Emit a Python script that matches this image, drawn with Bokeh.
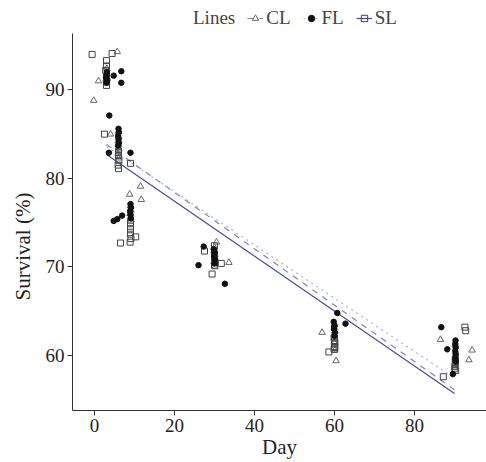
import numpy as np
from bokeh.plotting import figure
from bokeh.models import Legend, LegendItem, FixedTicker, ColumnDataSource, Title
from bokeh.embed import file_html
from bokeh.resources import INLINE

# ---------------- data ----------------
series = ["CL", "FL", "SL"]

CL_day = [3] * 8 + [6] * 8 + [9] * 8 + [30] * 8 + [60] * 8 + [90] * 8
CL_x = [5.7, 1.0, -0.2, 3.0, 3.1, 2.9, 3.0, 3.1,
        4.0, 6.0, 6.1, 5.9, 6.0, 6.1, 5.9, 6.0,
        11.5, 11.7, 8.8, 9.0, 9.1, 8.9, 9.0, 9.1,
        30.5, 33.6, 30.0, 29.9, 30.1, 30.0, 29.9, 30.1,
        56.9, 60.4, 60.0, 59.9, 60.1, 60.0, 59.9, 60.1,
        86.5, 94.4, 93.6, 90.2, 90.0, 90.2, 90.3, 90.2]
CL_y = [94.3, 91.0, 88.8, 91.9, 91.5, 91.2, 90.9, 92.4,
        85.0, 85.3, 84.7, 84.2, 83.8, 83.3, 82.8, 82.3,
        79.1, 77.6, 78.2, 76.9, 76.4, 76.0, 75.6, 75.3,
        72.8, 70.5, 72.2, 71.8, 71.4, 71.0, 70.6, 70.0,
        62.6, 59.4, 63.5, 63.1, 62.7, 62.3, 61.5, 60.6,
        61.8, 60.6, 59.5, 59.0, 58.6, 61.2, 60.4, 59.8]

FL_day = [3] * 9 + [6] * 8 + [9] * 8 + [30] * 8 + [60] * 8 + [90] * 10
FL_x = [3.1, 3.0, 2.9, 3.2, 3.0, 4.8, 6.7, 6.7, 3.7,
        6.0, 6.1, 5.9, 6.0, 6.1, 5.9, 3.6, 9.0,
        9.0, 9.1, 8.9, 9.0, 9.1, 4.8, 5.7, 6.9,
        27.3, 26.0, 32.6, 29.8, 30.0, 29.9, 30.1, 30.0,
        60.7, 62.75, 59.8, 60.0, 59.9, 60.1, 60.0, 59.9,
        86.7, 88.2, 90.25, 90.2, 90.3, 90.2, 90.3, 90.2, 90.3, 89.6]
FL_y = [92.0, 91.7, 91.4, 91.1, 90.8, 91.6, 92.1, 90.8, 87.1,
        85.6, 85.2, 84.8, 84.4, 84.0, 83.7, 82.9, 82.9,
        77.1, 76.7, 76.3, 75.9, 75.5, 75.2, 75.4, 75.8,
        72.3, 70.2, 68.1, 72.0, 71.6, 71.2, 70.8, 70.4,
        64.8, 63.6, 63.8, 63.4, 63.0, 62.6, 62.2, 63.2,
        63.2, 60.7, 61.7, 61.3, 60.9, 60.5, 60.1, 59.7, 59.3, 57.9]

SL_day = [3] * 8 + [6] * 8 + [9] * 8 + [30] * 8 + [60] * 8 + [90] * 8
SL_x = [-0.6, 4.4, 3.0, 3.0, 2.8, 3.0, 3.0, 3.0,
        2.5, 6.0, 6.0, 6.1, 5.9, 6.0, 9.0, 6.0,
        9.0, 9.0, 9.1, 8.9, 10.3, 6.5, 9.0, 9.0,
        27.5, 31.7, 29.4, 30.0, 30.0, 30.0, 30.0, 30.1,
        60.0, 60.0, 60.1, 58.6, 59.9, 60.0, 60.1, 59.9,
        92.6, 92.8, 87.2, 90.1, 90.3, 90.2, 90.1, 90.2]
SL_y = [94.0, 94.1, 93.3, 92.7, 92.2, 90.5, 90.9, 91.3,
        85.0, 83.1, 82.6, 82.0, 81.5, 81.1, 81.7, 82.9,
        74.2, 73.7, 73.2, 72.8, 73.4, 72.7, 74.6, 75.0,
        71.8, 70.4, 69.2, 72.4, 70.2, 71.0, 71.5, 70.6,
        61.7, 61.3, 60.9, 60.4, 62.0, 61.0, 61.5, 60.7,
        63.2, 62.8, 57.6, 58.8, 58.3, 59.2, 58.5, 59.6]

x_ticks = [0, 20, 40, 60, 80]
y_ticks = [60, 70, 80, 90]

# ---------------- styles ----------------
FONT = "Liberation Serif"
markers = {"CL": "triangle", "FL": "circle", "SL": "square"}
msize = {"CL": 6.5, "FL": 5.5, "SL": 6}
mline = {"CL": "#666666", "FL": "#111111", "SL": "#444444"}
mfill = {"CL": None, "FL": "#111111", "SL": None}
lcolor = {"CL": "#7a82c0", "FL": "#a6aee0", "SL": "#4a4aa8"}
ldash = {"CL": "dashed", "FL": "dotted", "SL": "solid"}

data = {"CL": (CL_day, CL_x, CL_y), "FL": (FL_day, FL_x, FL_y), "SL": (SL_day, SL_x, SL_y)}

Y_LO, Y_HI, Y_TOP = 53.79, 96.36, 100.09

p = figure(width=486, height=462, output_backend="svg", toolbar_location=None,
           x_range=(-5.5, 98), y_range=(Y_LO, Y_TOP),
           min_border_left=72, min_border_top=0, min_border_right=0, min_border_bottom=52,
           background_fill_color="white", border_fill_color="white")
p.outline_line_color = None
p.grid.visible = False

items = []
blank = p.scatter(x=[], y=[], alpha=0)
items.append(LegendItem(label="Lines", renderers=[blank]))

line_r = {}
pt_r = {}
for s in series:
    day, xs, ys = data[s]
    slope, icpt = np.polyfit(np.array(day, float), np.array(ys, float), 1)
    lx = np.array([min(day), max(day)], float)
    ly = icpt + slope * lx
    line_r[s] = p.line(x=lx, y=ly, line_color=lcolor[s], line_width=1.2, line_dash=ldash[s])
for s in ["CL", "SL", "FL"]:
    day, xs, ys = data[s]
    src = ColumnDataSource(dict(x=xs, y=ys))
    pt_r[s] = p.scatter(x="x", y="y", source=src, marker=markers[s], size=msize[s],
                        line_color=mline[s], fill_color=mfill[s], line_width=1)
for s in series:
    items.append(LegendItem(label=s, renderers=[line_r[s], pt_r[s]]))

legend = Legend(items=items, orientation="horizontal", location=(102, 381),
                border_line_color=None, background_fill_alpha=0,
                padding=0, margin=0, spacing=12, glyph_width=16, glyph_height=16,
                label_standoff=3, label_text_font=FONT, label_text_font_size="19px",
                label_height=18)
p.add_layout(legend, "center")

for ax in (p.xaxis[0], p.yaxis[0]):
    ax.axis_line_color = "#333333"
    ax.axis_line_width = 1
    ax.major_tick_line_color = "#333333"
    ax.major_tick_out = 5
    ax.major_tick_in = 0
    ax.minor_tick_line_color = None
    ax.major_label_text_font = FONT
    ax.major_label_text_font_size = "19px"
    ax.major_label_text_color = "#222222"
    ax.axis_label_text_font = FONT
    ax.axis_label_text_font_size = "21px"
    ax.axis_label_text_font_style = "normal"
    ax.axis_label_text_color = "#222222"

p.xaxis[0].ticker = FixedTicker(ticks=x_ticks)
p.yaxis[0].ticker = FixedTicker(ticks=y_ticks)
p.yaxis[0].bounds = (Y_LO, Y_HI)
p.xaxis[0].axis_label = "Day"
p.xaxis[0].major_label_standoff = 3
p.xaxis[0].axis_label_standoff = 0
p.yaxis[0].major_label_standoff = 3

ytitle = Title(text="Survival (%)", align="left", offset=110, standoff=16,
               text_font=FONT, text_font_size="21px", text_font_style="normal",
               text_color="#222222")
p.add_layout(ytitle, "left")

open("out.html", "w").write(file_html(p, INLINE))
